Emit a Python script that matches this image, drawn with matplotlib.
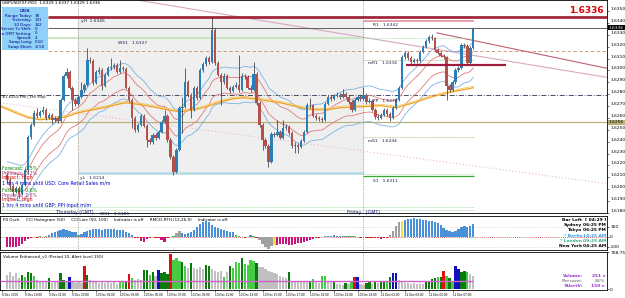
import numpy as np
import pandas as pd
import matplotlib.pyplot as plt
from matplotlib.patches import Rectangle

W, H = 625, 298

# GBPUSD M15 bars, 9 Dec 17:30 .. 11 Dec 08:45
# time in hours from 9 Dec 00:00, prices in pips above 1.6000
first_bar = 17.5
bar_step = 0.25
open_first = 212.0
close_pips = [208.1, 203.1, 198.0, 201.4, 196.3, 203.9, 216.5, 244.2, 254.3, 264.4,
              261.9, 265.2, 266.9, 260.2, 262.7, 258.5, 260.2, 257.7, 275.3, 295.5,
              298.8, 285.4, 275.3, 271.9, 277.8, 283.7, 287.9, 308.9, 308.1, 289.6,
              298.8, 300.5, 287.1, 296.3, 302.2, 303.0, 304.7, 298.8, 302.2, 301.3,
              285.4, 275.3, 260.2, 250.1, 254.3, 261.9, 253.5, 241.7, 240.0, 245.9,
              243.4, 248.4, 256.8, 261.9, 241.7, 227.4, 214.8, 233.3, 268.6, 269.4,
              290.4, 279.5, 266.9, 285.4, 277.0, 300.5, 305.5, 310.6, 307.2, 334.1,
              306.4, 296.3, 290.4, 295.5, 285.4, 282.9, 286.2, 287.9, 283.7, 295.5,
              294.6, 285.4, 283.7, 297.1, 272.8, 254.3, 241.7, 236.7, 223.2, 246.7,
              245.9, 248.4, 243.4, 251.8, 252.6, 247.6, 236.7, 237.5, 235.8, 240.9,
              248.4, 271.1, 270.5, 261.9, 260.2, 259.3, 258.5, 271.9, 277.8, 276.1,
              278.7, 279.5, 277.8, 280.3, 277.8, 273.6, 266.9, 275.3, 277.8, 276.1,
              279.5, 273.6, 274.5, 266.9, 261.0, 260.2, 262.7, 266.9, 263.5, 260.2,
              268.6, 275.3, 285.4, 311.4, 314.8, 310.6, 307.2, 308.9, 308.1, 315.6,
              319.8, 324.9, 328.2, 327.4, 317.3, 314.8, 312.3, 311.4, 287.1, 283.7,
              290.4, 300.5, 302.2, 321.5, 320.7, 306.4, 319.0, 336.0]
high_pips = [213.5, 209.5, 204.5, 203.0, 202.5, 205.5, 218.0, 246.0, 256.0, 266.9,
             268.6, 267.0, 270.3, 268.0, 264.5, 264.0, 262.0, 261.5, 277.0, 297.0,
             302.2, 300.0, 286.5, 277.0, 279.0, 290.4, 289.5, 319.0, 311.0, 309.5,
             300.5, 302.5, 302.0, 298.0, 304.0, 310.6, 306.5, 306.0, 308.9, 304.0,
             302.5, 287.0, 276.5, 261.5, 256.0, 263.5, 263.0, 255.0, 243.5, 247.5,
             247.0, 250.0, 258.5, 266.9, 263.0, 243.0, 229.0, 235.0, 270.0, 277.8,
             302.2, 292.0, 281.0, 287.0, 287.0, 302.0, 307.5, 312.5, 312.0, 345.0,
             336.0, 308.0, 298.0, 297.5, 297.0, 287.0, 288.0, 290.0, 313.1, 297.5,
             297.0, 296.0, 287.5, 307.2, 298.5, 274.0, 256.0, 243.5, 238.0, 248.5,
             248.5, 258.5, 250.0, 258.5, 254.5, 254.0, 249.0, 239.5, 239.0, 242.5,
             250.0, 272.5, 277.0, 272.0, 263.5, 262.0, 261.0, 273.5, 279.5, 279.5,
             280.5, 281.5, 281.0, 284.5, 282.0, 279.0, 275.0, 277.0, 279.5, 279.5,
             286.2, 281.0, 276.5, 276.0, 268.5, 263.0, 264.5, 268.5, 268.0, 265.0,
             270.0, 277.0, 287.0, 313.0, 316.5, 316.0, 312.0, 310.5, 310.5, 317.0,
             321.5, 326.5, 329.5, 330.7, 328.5, 318.5, 316.0, 313.5, 312.5, 289.0,
             292.0, 302.0, 304.0, 323.0, 323.5, 322.0, 320.5, 336.5]
low_pips = [205.0, 200.5, 194.0, 196.5, 193.0, 195.0, 202.5, 213.1, 242.5, 253.0,
            260.0, 260.5, 263.5, 258.5, 258.8, 255.1, 257.0, 256.0, 256.5, 274.0,
            294.0, 284.0, 266.9, 270.0, 270.5, 276.5, 282.0, 286.5, 306.0, 288.0,
            288.5, 297.0, 283.7, 286.0, 295.0, 300.5, 301.5, 297.5, 297.5, 299.5,
            284.0, 273.5, 251.8, 248.5, 248.5, 253.0, 252.0, 235.8, 238.0, 238.5,
            241.5, 242.0, 247.0, 255.5, 240.0, 225.5, 212.3, 213.5, 232.0, 247.6,
            268.0, 278.0, 260.2, 265.5, 275.5, 276.0, 299.0, 304.0, 305.5, 306.0,
            305.0, 295.0, 271.1, 289.0, 284.0, 281.0, 281.5, 285.0, 282.0, 282.5,
            293.0, 284.0, 282.0, 282.5, 271.0, 252.5, 233.3, 235.0, 219.0, 222.0,
            244.0, 244.5, 242.0, 242.0, 250.0, 246.0, 235.0, 230.8, 230.8, 234.5,
            239.5, 247.0, 268.5, 260.5, 258.5, 257.5, 257.0, 257.5, 270.5, 274.5,
            275.0, 277.5, 276.0, 276.5, 276.5, 272.0, 265.0, 265.5, 274.0, 274.5,
            275.0, 272.0, 272.5, 265.5, 259.5, 258.5, 259.0, 261.5, 262.0, 257.7,
            259.0, 267.5, 274.0, 284.5, 310.0, 309.0, 305.5, 306.0, 306.5, 307.0,
            314.5, 318.5, 323.5, 326.0, 316.0, 313.5, 311.0, 310.0, 275.3, 282.0,
            282.5, 289.0, 299.0, 301.0, 319.0, 305.0, 305.5, 318.0]

# tick volume per bar and its colour class (g grey, d dark green, l light green, r red, b blue)
volume = [270, 330, 250, 300, 210, 270, 230, 330, 310, 240,
          180, 160, 150, 130, 210, 120, 140, 150, 300, 170,
          140, 230, 130, 120, 140, 110, 440, 260, 180, 150,
          130, 120, 150, 110, 140, 120, 130, 100, 140, 150,
          160, 290, 220, 180, 190, 170, 370, 360, 260, 330,
          250, 370, 300, 330, 290, 670, 560, 600, 540, 520,
          450, 400, 500, 400, 390, 420, 380, 460, 450, 380,
          350, 330, 340, 230, 330, 450, 400, 520, 500, 600,
          470, 460, 560, 540, 500, 430, 420, 380, 340, 330,
          300, 290, 250, 230, 220, 320, 150, 130, 140, 150,
          140, 130, 130, 190, 140, 120, 250, 240, 150, 140,
          150, 100, 90, 80, 120, 100, 150, 230, 230, 90,
          80, 120, 130, 100, 140, 110, 140, 150, 140, 230,
          300, 300, 170, 150, 120, 110, 100, 110, 100, 90,
          100, 150, 160, 200, 210, 230, 230, 350, 240, 210,
          150, 440, 380, 330, 340, 320, 280, 251]
volume_kind = ("gggggdlddl" "ggggdgggdd" "gbggggrdgg" "ggggggggll" "drlgggddld"
               "gbdddrllld" "lgdggggddg" "ggglgdllld" "lllldggggg" "gggggdgggg"
               "ggdlggllgg" "dgggdglrbg" "gddgdgddld" "bbgggggggg" "gddddldrld"
               "lbbddlgg")
alert_level = 150

# CCI histogram (50) and colour class (b blue, m magenta, k grey, y yellow, r/g small)
cci = [-95, -100, -100, -95, -85, -65, -40, -15, -5, 5,
       -5, 8, 5, 10, 25, 40, 55, 65, 75, 80,
       70, 60, 55, 50, 20, 30, 50, 65, 75, 80,
       78, 80, 75, 78, 82, 80, 78, 72, 75, 70,
       55, 40, 20, -5, -10, -35, -45, -20, -5, 5,
       -5, -8, -30, -45, -10, 5, 15, 40, 65, 40,
       35, 40, 50, 70, 100, 130, 150, 160, 150, 120,
       100, 90, 80, 70, 60, 55, 50, 20, 10, 5,
       -5, 5, 25, 10, -5, -30, -70, -100, -115, -90,
       -80, -75, -70, -65, -70, -80, -75, -70, -60, -55,
       -50, -35, -25, -15, -10, -5, 5, 10, 15, 15,
       18, 15, 12, 15, 10, 12, 8, 10, 5, -5,
       5, -5, -8, -5, -10, -8, -15, -10, -5, 20,
       60, 110, 150, 160, 170, 180, 185, 190, 185, 180,
       175, 170, 165, 160, 150, 140, 120, 90, 70, 60,
       55, 65, 80, 100, 110, 105, 115, 130]
cci_kind = ("mmmmmmmmrg" "rgggbbbbbb" "bbbbgbbbbb" "bbbbbbbbbb" "bbbrrmmmrg"
            "rrmmrggkkb" "bbbbbbbbbb" "bbbbbbbggg" "rgbgrkkkkk" "ymmmmmmmmm"
            "mmmmrrggbb" "bbbbgbgggr" "grrrrrmrrk" "kkkybbbbbb" "bbbbbbbbbb"
            "bbbbbbbb")

# slow moving average as drawn on the chart (hours, pips)
slow_ma_t = [17, 18, 19.25, 20.25, 21.25, 22.5, 23.5, 24.75, 26, 27, 27.5, 28.75,
             29.75, 31, 32, 33.25, 34.25, 35.5, 36.5, 37.5, 38.75, 40.5, 42.25,
             43.25, 44.5, 45.5, 47.25, 49, 50.25, 51.75, 53.25, 55, 56.75]
slow_ma_pips = [269.4, 265.2, 260.2, 258.5, 259.3, 261.0, 264.4, 266.9, 269.4, 271.9,
                272.8, 271.1, 269.4, 266.9, 265.2, 266.9, 269.4, 273.6, 276.1, 277.0,
                275.3, 272.8, 268.6, 266.9, 266.9, 268.6, 269.4, 270.3, 268.6, 272.8,
                277.8, 282.0, 285.4]

# pivot / range levels
yH, R1, bid, WS1, mR1, PP, hline, mS1, yL, S1, WS1_low = (
    1.6345, 1.6342, 1.6336, 1.6327, 1.6316, 1.6279, 1.62564, 1.6244, 1.6214, 1.6211, 1.6185)
mR1_zone = 1.63043
mR1_dots = 1.6309

time_ticks = [17.1, 19, 21, 23, 25, 27, 29, 31, 33, 35, 37, 39, 41, 43, 45, 47, 49, 51, 53, 55]
time_labels = ['8 Dec 2009', '9 Dec 19:00', '9 Dec 21:00', '9 Dec 23:00', '10 Dec 01:00',
               '10 Dec 03:00', '10 Dec 05:00', '10 Dec 07:00', '10 Dec 09:00', '10 Dec 11:00',
               '10 Dec 13:00', '10 Dec 15:00', '10 Dec 17:00', '10 Dec 19:00', '10 Dec 21:00',
               '10 Dec 23:00', '11 Dec 01:00', '11 Dec 03:00', '11 Dec 05:00', '11 Dec 07:00']
day_starts = [23.45, 47.5]

# -------------------------------------------------------------------
t = first_bar + bar_step * np.arange(len(close_pips))
c = 1.6 + np.array(close_pips) / 1e4
o = np.r_[1.6 + open_first / 1e4, c[:-1]]
hi = np.maximum(1.6 + np.array(high_pips) / 1e4, np.maximum(o, c))
lo = np.minimum(1.6 + np.array(low_pips) / 1e4, np.minimum(o, c))

fig = plt.figure(figsize=(W / 100, H / 100), dpi=100)
fig.patch.set_facecolor('white')


def pane(top, bottom):
    return fig.add_axes([0, 1 - bottom / H, 607 / W, (bottom - top) / H])


ax = pane(0, 213)
ax_cci = pane(216, 250)
ax_vol = pane(252, 290)
xlim = (16.895, 68.01)
for a in (ax, ax_cci, ax_vol):
    a.set_xlim(*xlim)
    for s in a.spines.values():
        s.set_linewidth(0.6)
        s.set_color('black')
    a.yaxis.tick_right()
    a.tick_params(axis='y', labelsize=3.2, length=1.5, width=0.4, pad=0.8)
    a.tick_params(axis='x', length=0)
    a.set_xticks([])

# ---- main price pane ----
ax.set_ylim(1.61804, 1.63593)
ax.set_yticks(np.arange(1.618, 1.6351, 0.001))
ax.set_yticklabels([f'{v:.4f}' for v in np.arange(1.618, 1.6351, 0.001)])
for lab in ax.get_yticklabels():
    lab.set_va('bottom')

# yesterday range box
ax.fill_between([day_starts[0], day_starts[1]], yL, yH, color='#efefef', zorder=0)

# trend lines
ax.plot([28.4, 68.0], [1.63593, 1.62942], color='#d8a8c0', lw=0.8, zorder=1)
ax.plot([53.69, 68.0], [1.63316, 1.63018], color='#c06070', lw=0.8, zorder=1)
ax.plot([16.9, 68.0], [1.62728, 1.62047], color='#e8b8d0', lw=0.8, ls=(0, (1, 2)), zorder=1)

# horizontal levels
ax.hlines(yH, 20.94, 68.0, color='#a0283c', lw=2.0, zorder=2)
ax.hlines(bid, 20.94, 68.0, color='#606060', lw=0.7, zorder=2)
ax.hlines(WS1, 20.94, 47.5, color='#c0e4b8', lw=1.2, zorder=1)
ax.hlines(mR1, 20.94, 68.0, color='#d08a60', lw=0.6, ls=(0, (4, 3)), zorder=1)
ax.hlines(PP, 16.9, 68.0, color='#303050', lw=0.6, ls=(0, (6, 2, 1, 2)), zorder=1)
ax.hlines(hline, 16.9, 68.0, color='#bab27a', lw=0.9, zorder=1)
ax.hlines(yL, 23.45, 47.5, color='#b8dbe4', lw=2.0, zorder=1)
ax.hlines(R1, 47.5, 56.8, color='#e8a0a8', lw=1.4, zorder=2)
ax.hlines(WS1, 47.5, 56.8, color='#a8d8a0', lw=0.6, ls=(0, (1, 1)), zorder=1)
ax.hlines(mR1_dots, 47.5, 56.8, color='#b0b070', lw=0.6, ls=(0, (1, 1)), zorder=1)
ax.hlines(mS1, 47.5, 56.8, color='#b0b070', lw=0.6, ls=(0, (1, 1)), zorder=1)
ax.hlines(S1 + 0.00021, 47.5, 56.8, color='#a8d8a0', lw=0.6, ls=(0, (1, 1)), zorder=1)
ax.hlines(S1, 47.5, 56.8, color='#33aa33', lw=0.9, zorder=1)
ax.hlines([WS1_low - 0.00002, WS1_low - 0.00027], 16.9, 56.8, color='#a0d8a0', lw=0.6,
          ls=(0, (1, 1)), zorder=1)
ax.hlines(mR1_zone, 51.08, 59.48, color='#a01c3c', lw=1.6, zorder=5)
for d in day_starts:
    for a in (ax, ax_cci):
        a.axvline(d, color='#707060', lw=0.5, ls=(0, (1, 1.5)), zorder=1)
ax_vol.axvline(day_starts[1], color='#707060', lw=0.5, ls=(0, (1, 1.5)), zorder=1)

# envelope bands around a 20-bar EMA, plus the slow average
mid = pd.Series(c).ewm(span=20, adjust=False).mean()
for off, col in ((0.0015, '#7fb2e0'), (0.0007, '#e07a7a')):
    ax.plot(t, mid + off, color=col, lw=0.6, zorder=2)
    ax.plot(t, mid - off, color=col, lw=0.6, zorder=2)
ax.plot(slow_ma_t, 1.6 + np.array(slow_ma_pips) / 1e4, color='#f0a020', lw=0.9, zorder=2)
ax.plot(slow_ma_t, 1.6 + np.array(slow_ma_pips) / 1e4 + 0.00012, color='#f5c860', lw=0.6,
        zorder=2)

# candles
up = c >= o
ax.vlines(t, lo, hi, color='#3a3a3a', lw=0.55, zorder=3)
ax.bar(t, np.maximum(np.abs(c - o), 0.00005), bottom=np.minimum(o, c), width=0.2,
       color=np.where(up, '#2b7fb8', '#b5504a'), edgecolor='none', zorder=4)

# highlighted price labels
for val, fc, tc in ((bid, 'black', 'white'), (hline, '#bab27a', 'black')):
    ax.text(1.003, val, f'{val:.4f}', transform=ax.get_yaxis_transform(), fontsize=3.2,
            color=tc, va='center', ha='left',
            bbox=dict(boxstyle='square,pad=0.15', fc=fc, ec='none'), clip_on=False, zorder=10)

# ---- CCI pane ----
cci_col = {'b': '#4a90d9', 'm': '#c8157e', 'k': '#a0a0a0', 'y': '#f0e040',
           'r': '#cc2222', 'g': '#55bb55'}
ax_cci.set_ylim(-130, 210)
ax_cci.bar(t, cci, width=0.19, color=[cci_col[k] for k in cci_kind], zorder=3)
ax_cci.axhline(0, color='#cc3333', lw=0.6, ls=(0, (1, 1.5)), zorder=2)
for lvl in (100, -100):
    ax_cci.axhline(lvl, color='#b0b0b0', lw=0.4, ls=(0, (1, 2)), zorder=1)
ax_cci.set_yticks([100, 0, -100])
ax_cci.set_yticklabels(['100', '0', '-100'])

# ---- volume pane ----
vol_col = {'g': '#c0c0c0', 'd': '#0a7a0a', 'l': '#44cc44', 'r': '#e01010', 'b': '#1010c0'}
ax_vol.set_ylim(-19, 709)
ax_vol.bar(t, volume, width=0.19, color=[vol_col[k] for k in volume_kind], zorder=3)
ax_vol.hlines(alert_level, xlim[0], t[-1], color='#d060d0', lw=1.0, zorder=4)
ax_vol.set_yticks([708.75, 0])
ax_vol.set_yticklabels(['708.75', '0'])
ax_vol.set_xticks(time_ticks)
ax_vol.set_xticklabels(time_labels, fontfamily='Liberation Sans')
ax_vol.tick_params(axis='x', labelsize=2.25, length=1.5, width=0.4, pad=0.8)
for lab in ax_vol.get_xticklabels():
    lab.set_ha('left')

# ---- overlay in pixel coordinates for chart texts ----
ov = fig.add_axes([0, 0, 1, 1], facecolor='none')
ov.set_xlim(0, W)
ov.set_ylim(H, 0)
ov.axis('off')

ov.text(2, 3, 'GBPUSDFXF,M15  1.6329 1.6337 1.6329 1.6336', fontsize=3.0, va='center')
ov.add_patch(Rectangle((2, 7), 46, 43, fc='#8fd0f8', ec='none'))
ov.text(25, 10.5, 'DATA', fontsize=3.0, color='#000080', ha='center', va='center')
data_rows = [('Range Today:', '78'), ('Yesterday:', '131'), ('30 Days:', '162'),
             ('Server Tz Shift:', '0'), ('to GMT Setting:', '0'), ('Spread:', '4'),
             ('Swap Long:', '0.10'), ('Swap Short:', '-0.50')]
for i, (k, v) in enumerate(data_rows):
    y = 15.7 + i * 4.45
    ov.text(32, y, k, fontsize=2.9, color='#000080', ha='right', va='center')
    ov.text(35, y, v, fontsize=2.9, color='#000080', ha='left', va='center')

lbl = dict(fontsize=3.2, color='#1a1a4a', va='center')
ov.text(81, 21, 'yH  1.6345', **lbl)
ov.text(118, 43, 'WS1   1.6327', **lbl)
ov.text(80, 178.5, 'yL   1.6214', **lbl)
ov.text(373, 25, 'R1   1.6342', **lbl)
ov.text(368, 62.5, 'mR1   1.6316', **lbl)
ov.text(373, 100.5, 'PP   1.6279', **lbl)
ov.text(368, 141, 'mS1   1.6244', **lbl)
ov.text(373, 181.5, 'S1   1.6211', **lbl)
ov.text(2, 97, '#1.6262(PMI)_sell stop', fontsize=2.7, color='#202020', va='center')
ov.text(56, 212.5, 'Thursday (GMT)', fontsize=3.4, color='#1a1a6a', va='center')
ov.text(100, 214, 'WS1   1.6185', **lbl)
ov.text(347, 212.5, 'Friday   (GMT)', fontsize=3.4, color='#1a1a6a', va='center')
ov.text(604, 10.5, '1.6336', fontsize=6.5, color='#e00000', fontweight='bold',
        ha='right', va='center')

news = [('Forecast: 0.5%', '#008000'), ('Previous: 0.2%', '#a0307a'),
        ('Impact: High', '#cc0000'), ('1 hrs 4 mins until USD: Core Retail Sales m/m', '#0000cc'),
        ('Forecast: 0.6%', '#008000'), ('Previous: 2.6%', '#a0307a'),
        ('Impact: High', '#cc0000'), ('1 hrs 4 mins until GBP: PPI Input m/m', '#0000cc')]
news_y = [169, 173.5, 178, 183, 191, 195.5, 200, 205.5]
for (txt, col), y in zip(news, news_y):
    ov.text(2, y, txt, fontsize=3.4, color=col, va='center')

ov.text(3, 220, 'P4 Osch     CCI Histogram (50)     CCI Line (50, 100)     Indicator is off'
        '     RMCD-RTH (12,26,9)     Indicator is off', fontsize=3.0, va='center')
ov.text(3, 256, 'Volume Enhanced_v1 (Period 10, Alert level 150)', fontsize=3.0, va='center')

clock = [('Bar Left', '[ 04:29 ]', 'black'), ('Sydney', '06:25 PM', 'black'),
         ('Tokyo', '06:25 PM', 'black'), ('* Berlin', '10:25 AM', '#3399ee'),
         ('* London', '09:25 AM', '#33aa88'), ('New York', '04:25 AM', 'black')]
for i, (k, v, col) in enumerate(clock):
    y = 220 + i * 5.2
    ov.text(582, y, k, fontsize=3.2, color=col, ha='right', va='center', fontweight='bold')
    ov.text(606, y, v, fontsize=3.2, color=col, ha='right', va='center', fontweight='bold')

vol_info = [('Volume:', '251 v', '#9933cc'), ('Percent:', '85%', '#909090'),
            ('*AlertV:', '150 v', '#9933cc')]
for i, (k, v, col) in enumerate(vol_info):
    y = 276 + i * 5
    ov.text(583, y, k, fontsize=3.2, color=col, ha='right', va='center', fontweight='bold')
    ov.text(605, y, v, fontsize=3.2, color=col, ha='right', va='center', fontweight='bold')

fig.savefig('out.png', dpi=100)
